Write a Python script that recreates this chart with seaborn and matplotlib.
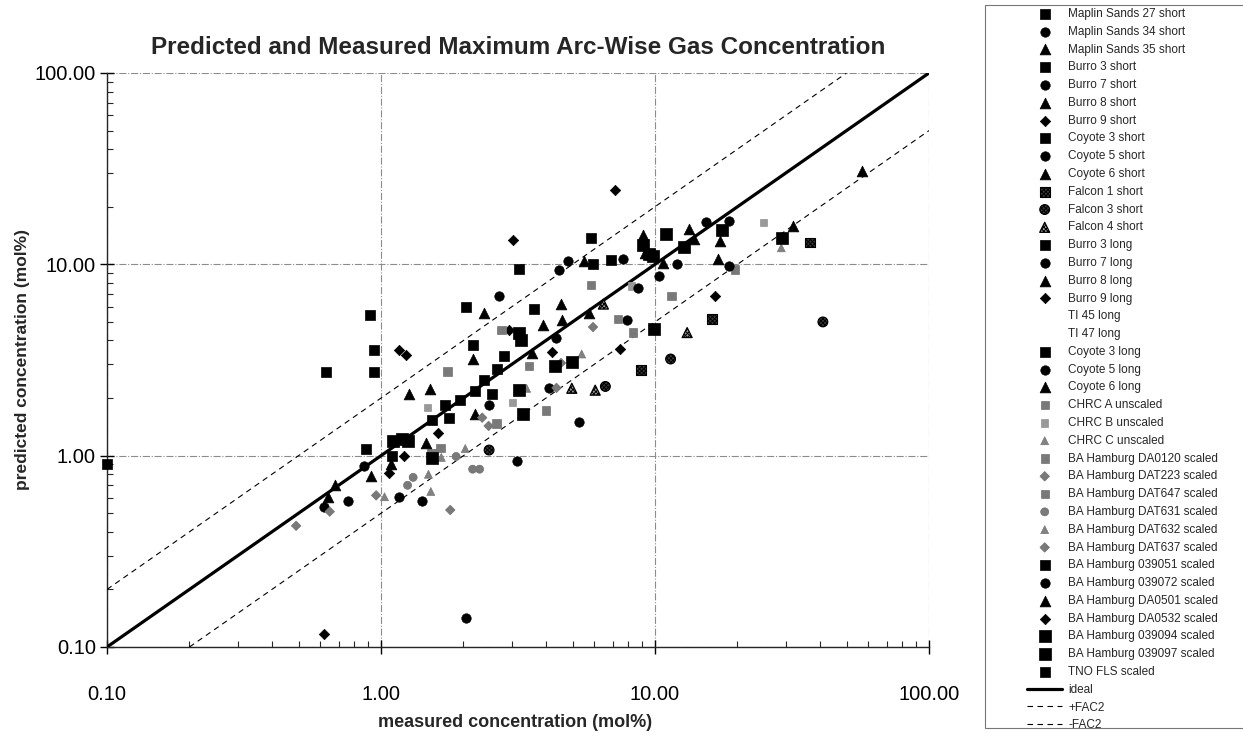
import matplotlib
matplotlib.use("Agg")
import matplotlib.pyplot as plt
import matplotlib.ticker as mticker
import seaborn as sns
from matplotlib.lines import Line2D
from matplotlib.patches import Rectangle

# measured / predicted maximum arc-wise concentration (mol%)
maplin27_short_meas = [0.88, 1.10]
maplin27_short_pred = [1.09, 1.00]
maplin34_short_meas = [0.87, 0.76, 0.62]
maplin34_short_pred = [0.88, 0.58, 0.54]
maplin35_short_meas = [0.92, 0.68, 0.64]
maplin35_short_pred = [0.78, 0.70, 0.61]
burro3_short_meas = [2.05, 3.19, 1.53]
burro3_short_pred = [5.95, 9.45, 1.54]
burro7_short_meas = [2.70, 4.81, 4.48]
burro7_short_pred = [6.80, 10.4, 9.30]
burro8_short_meas = [2.38, 4.54, 5.51]
burro8_short_pred = [5.55, 6.20, 10.4]
burro9_short_meas = [3.02, 7.13, 2.92]
burro9_short_pred = [13.4, 24.6, 4.55]
coyote3_short_meas = [5.94, 6.91, 5.83]
coyote3_short_pred = [10.1, 10.5, 13.7]
coyote5_short_meas = [7.67, 7.88, 4.37]
coyote5_short_pred = [10.7, 5.10, 4.10]
coyote6_short_meas = [4.59, 5.72, 3.89]
coyote6_short_pred = [5.10, 5.55, 4.80]
falcon1_short_meas = [8.86, 16.1, 36.8]
falcon1_short_pred = [2.8, 5.2, 13.0]
falcon3_short_meas = [6.59, 11.4, 41.0, 2.48]
falcon3_short_pred = [2.3, 3.2, 5.0, 1.07]
falcon4_short_meas = [6.05, 6.48, 13.1, 4.97]
falcon4_short_pred = [2.2, 6.2, 4.4, 2.25]
burro3_long_meas = [0.94, 0.94, 0.63]
burro3_long_pred = [3.55, 2.75, 2.75]
burro7_long_meas = [2.48, 4.10]
burro7_long_pred = [1.85, 2.25]
burro8_long_meas = [1.51, 1.27, 2.16]
burro8_long_pred = [2.23, 2.10, 3.20]
burro9_long_meas = [1.16, 1.23]
burro9_long_pred = [3.55, 3.37]
ti45_long_meas = []
ti45_long_pred = []
ti47_long_meas = []
ti47_long_pred = []
coyote3_long_meas = [0.91, 2.16, 3.62]
coyote3_long_pred = [5.45, 3.80, 5.85]
coyote5_long_meas = [3.13, 5.29]
coyote5_long_pred = [0.94, 1.50]
coyote6_long_meas = [3.56, 2.21]
coyote6_long_pred = [3.45, 1.65]
chrc_a_meas = [2.75, 1.75, 3.46, 5.83]
chrc_a_pred = [4.55, 2.75, 2.95, 7.80]
chrc_b_meas = [3.02, 1.48, 8.21, 24.9]
chrc_b_pred = [1.90, 1.78, 7.70, 16.5]
chrc_c_meas = [1.49, 1.66, 2.03, 1.03]
chrc_c_pred = [0.80, 0.98, 1.09, 0.61]
da0120_meas = [11.5, 7.34, 8.32, 19.6]
da0120_pred = [6.85, 5.2, 4.4, 9.4]
dat223_meas = [4.54, 4.37, 2.34, 2.47]
dat223_pred = [3.05, 2.26, 1.58, 1.43]
dat647_meas = [2.64, 4.00, 1.53, 1.65]
dat647_pred = [1.47, 1.72, 1.03, 1.10]
dat631_meas = [1.88, 2.16, 2.29, 1.31, 1.25]
dat631_pred = [0.99, 0.85, 0.85, 0.77, 0.70]
dat632_meas = [5.4, 1.52, 28.9, 3.4]
dat632_pred = [3.4, 0.65, 12.2, 2.25]
dat637_meas = [5.94, 1.79, 0.96, 0.65, 0.49]
dat637_pred = [4.7, 0.52, 0.62, 0.51, 0.43]
ba039051_meas = [1.71, 1.94, 1.77, 2.21, 2.54, 2.38, 2.65, 2.81]
ba039051_pred = [1.83, 1.95, 1.58, 2.18, 2.10, 2.50, 2.85, 3.30]
ba039072_meas = [10.3, 12.0, 15.3, 18.6, 18.6, 8.64, 1.16, 1.41, 2.05]
ba039072_pred = [8.7, 10.1, 16.7, 16.8, 9.8, 7.5, 0.61, 0.58, 0.142]
da0501_meas = [9.07, 9.18, 10.7, 13.3, 13.9, 17.3, 17.0, 32.0, 57.0, 1.46, 1.09]
da0501_pred = [14.2, 11.4, 10.2, 15.3, 13.6, 13.3, 10.7, 15.8, 30.6, 1.17, 0.91]
da0532_meas = [4.21, 7.45, 16.5, 1.61, 1.21, 1.07, 0.62]
da0532_pred = [3.5, 3.6, 6.85, 1.32, 1.00, 0.81, 0.117]
ba039094_meas = [9.5, 9.83, 11.0, 12.8, 17.6, 29.1, 3.19, 3.24]
ba039094_pred = [11.3, 11.0, 14.4, 12.3, 15.1, 13.8, 4.40, 4.00]
ba039097_meas = [3.19, 3.29, 1.11, 1.19, 1.25, 4.32, 4.97, 9.88, 9.07, 1.54]
ba039097_pred = [2.20, 1.65, 1.20, 1.22, 1.20, 2.95, 3.10, 4.60, 12.6, 0.97]
tno_fls_meas = [0.10]
tno_fls_pred = [0.91]

# reference lines
ideal_x = [0.1, 100]
ideal_y = [0.1, 100]
fac2_plus_x = [0.1, 50]
fac2_plus_y = [0.2, 100]
fac2_minus_x = [0.2, 100]
fac2_minus_y = [0.1, 50]

tick_values = [0.1, 1, 10, 100]

# marker styles ("speckled" ones use a fine white hatch over grey)
dense = "x" * 14
styles = {
    "sq": dict(marker="s", s=50, color="black", edgecolor="black", linewidth=0.5),
    "sq_big": dict(marker="s", s=78, color="black", edgecolor="black", linewidth=0.5),
    "ci": dict(marker="o", s=46, color="black", edgecolor="black", linewidth=0.5),
    "tri": dict(marker="^", s=60, color="black", edgecolor="black", linewidth=0.5),
    "dia": dict(marker="D", s=28, color="black", edgecolor="black", linewidth=0.5),
    "f_sq": dict(marker="s", s=50, color="#3a3a3a", edgecolor="black", linewidth=0.8, hatch="x" * 8),
    "f_ci": dict(marker="o", s=50, color="#3a3a3a", edgecolor="black", linewidth=0.8, hatch="x" * 8),
    "f_tri": dict(marker="^", s=52, color="#9a9a9a", edgecolor="black", linewidth=0.9, hatch="x" * 8),
    "h_sq": dict(marker="s", s=36, color="#6e6e6e", edgecolor="#7a7a7a", linewidth=0.4, hatch=dense),
    "h_sq2": dict(marker="s", s=28, color="#8e8e8e", edgecolor="#9a9a9a", linewidth=0.4, hatch=dense),
    "h_ci": dict(marker="o", s=34, color="#6e6e6e", edgecolor="#7a7a7a", linewidth=0.4, hatch=dense),
    "h_tri": dict(marker="^", s=34, color="#767676", edgecolor="#828282", linewidth=0.4, hatch=dense),
    "h_dia": dict(marker="D", s=24, color="#6e6e6e", edgecolor="#7a7a7a", linewidth=0.4, hatch=dense),
    "none": None,
}

series = [
    ("Maplin Sands 27 short", maplin27_short_meas, maplin27_short_pred, "sq"),
    ("Maplin Sands 34 short", maplin34_short_meas, maplin34_short_pred, "ci"),
    ("Maplin Sands 35 short", maplin35_short_meas, maplin35_short_pred, "tri"),
    ("Burro 3 short", burro3_short_meas, burro3_short_pred, "sq"),
    ("Burro 7 short", burro7_short_meas, burro7_short_pred, "ci"),
    ("Burro 8 short", burro8_short_meas, burro8_short_pred, "tri"),
    ("Burro 9 short", burro9_short_meas, burro9_short_pred, "dia"),
    ("Coyote 3 short", coyote3_short_meas, coyote3_short_pred, "sq"),
    ("Coyote 5 short", coyote5_short_meas, coyote5_short_pred, "ci"),
    ("Coyote 6 short", coyote6_short_meas, coyote6_short_pred, "tri"),
    ("Falcon 1 short", falcon1_short_meas, falcon1_short_pred, "f_sq"),
    ("Falcon 3 short", falcon3_short_meas, falcon3_short_pred, "f_ci"),
    ("Falcon 4 short", falcon4_short_meas, falcon4_short_pred, "f_tri"),
    ("Burro 3 long", burro3_long_meas, burro3_long_pred, "sq"),
    ("Burro 7 long", burro7_long_meas, burro7_long_pred, "ci"),
    ("Burro 8 long", burro8_long_meas, burro8_long_pred, "tri"),
    ("Burro 9 long", burro9_long_meas, burro9_long_pred, "dia"),
    ("TI 45 long", ti45_long_meas, ti45_long_pred, "none"),
    ("TI 47 long", ti47_long_meas, ti47_long_pred, "none"),
    ("Coyote 3 long", coyote3_long_meas, coyote3_long_pred, "sq"),
    ("Coyote 5 long", coyote5_long_meas, coyote5_long_pred, "ci"),
    ("Coyote 6 long", coyote6_long_meas, coyote6_long_pred, "tri"),
    ("CHRC A unscaled", chrc_a_meas, chrc_a_pred, "h_sq"),
    ("CHRC B unscaled", chrc_b_meas, chrc_b_pred, "h_sq2"),
    ("CHRC C unscaled", chrc_c_meas, chrc_c_pred, "h_tri"),
    ("BA Hamburg DA0120 scaled", da0120_meas, da0120_pred, "h_sq"),
    ("BA Hamburg DAT223 scaled", dat223_meas, dat223_pred, "h_dia"),
    ("BA Hamburg DAT647 scaled", dat647_meas, dat647_pred, "h_sq"),
    ("BA Hamburg DAT631 scaled", dat631_meas, dat631_pred, "h_ci"),
    ("BA Hamburg DAT632 scaled", dat632_meas, dat632_pred, "h_tri"),
    ("BA Hamburg DAT637 scaled", dat637_meas, dat637_pred, "h_dia"),
    ("BA Hamburg 039051 scaled", ba039051_meas, ba039051_pred, "sq"),
    ("BA Hamburg 039072 scaled", ba039072_meas, ba039072_pred, "ci"),
    ("BA Hamburg DA0501 scaled", da0501_meas, da0501_pred, "tri"),
    ("BA Hamburg DA0532 scaled", da0532_meas, da0532_pred, "dia"),
    ("BA Hamburg 039094 scaled", ba039094_meas, ba039094_pred, "sq_big"),
    ("BA Hamburg 039097 scaled", ba039097_meas, ba039097_pred, "sq_big"),
    ("TNO FLS scaled", tno_fls_meas, tno_fls_pred, "sq"),
]

sns.set_style("ticks")
plt.rcParams["font.family"] = ["Liberation Sans", "DejaVu Sans"]
plt.rcParams["hatch.color"] = "white"
plt.rcParams["hatch.linewidth"] = 0.7

fig = plt.figure(figsize=(12.43, 7.33), dpi=100)
ax = fig.add_axes([107 / 1243, 86 / 733, 822 / 1243, 574 / 733])
ax.set_xscale("log")
ax.set_yscale("log")

handles = []
labels = []
for name, meas, pred, key in series:
    st = styles[key]
    if st is None or len(meas) == 0:
        handles.append(Line2D([], [], linestyle="none", marker=None))
        labels.append(name)
        continue
    sns.scatterplot(x=meas, y=pred, ax=ax, legend=False, clip_on=False, zorder=4, **st)
    handles.append(ax.collections[-1])
    labels.append(name)

sns.lineplot(x=ideal_x, y=ideal_y, ax=ax, color="black", linewidth=2.3, zorder=3)
handles.append(ax.lines[-1])
labels.append("ideal")
sns.lineplot(x=fac2_plus_x, y=fac2_plus_y, ax=ax, color="black", linewidth=0.8,
             linestyle=(0, (5, 4)), zorder=3)
handles.append(ax.lines[-1])
labels.append("+FAC2")
sns.lineplot(x=fac2_minus_x, y=fac2_minus_y, ax=ax, color="black", linewidth=0.8,
             linestyle=(0, (5, 4)), zorder=3)
handles.append(ax.lines[-1])
labels.append("-FAC2")

ax.set_xlim(0.1, 100)
ax.set_ylim(0.1, 100)
for axis in (ax.xaxis, ax.yaxis):
    axis.set_major_locator(mticker.FixedLocator(tick_values))
    axis.set_major_formatter(mticker.FormatStrFormatter("%.2f"))
    axis.set_minor_locator(mticker.LogLocator(base=10, subs=range(2, 10)))
    axis.set_minor_formatter(mticker.NullFormatter())

ax.grid(True, which="major", color="#8c8c8c", linestyle="-.", linewidth=0.8, zorder=1)
ax.set_axisbelow(True)
ax.spines["top"].set_visible(False)
ax.spines["right"].set_visible(False)
ax.spines["left"].set_linewidth(1.0)
ax.spines["bottom"].set_linewidth(1.0)
ax.tick_params(which="major", direction="inout", length=10, width=1, labelsize=14.5, colors="black")
ax.tick_params(which="minor", direction="in", length=4, width=0.8)
ax.tick_params(axis="x", which="major", pad=22)
ax.tick_params(axis="y", which="major", pad=3)

ax.set_title("Predicted and Measured Maximum Arc-Wise Gas Concentration",
             fontsize=17.5, fontweight="bold", pad=14)
ax.set_xlabel("measured concentration (mol%)", fontsize=13, fontweight="bold")
ax.set_ylabel("predicted concentration (mol%)", fontsize=12.5, fontweight="bold")
ax.xaxis.set_label_coords(0.496, -0.117)
ax.yaxis.set_label_coords(-0.094, 0.5)

# legend box on the right
fig.patches.append(Rectangle((985 / 1243, 5 / 733), 0.3, 723 / 733, transform=fig.transFigure,
                             facecolor="white", edgecolor="#777777", linewidth=0.8))
fig.legend(handles, labels, loc="upper left", bbox_to_anchor=(1027 / 1243, 1 - 8 / 733),
           frameon=False, fontsize=8.5, borderpad=0, borderaxespad=0,
           handlelength=3.0, handletextpad=0.5, labelspacing=0.49)

fig.savefig("out.png", dpi=100)
